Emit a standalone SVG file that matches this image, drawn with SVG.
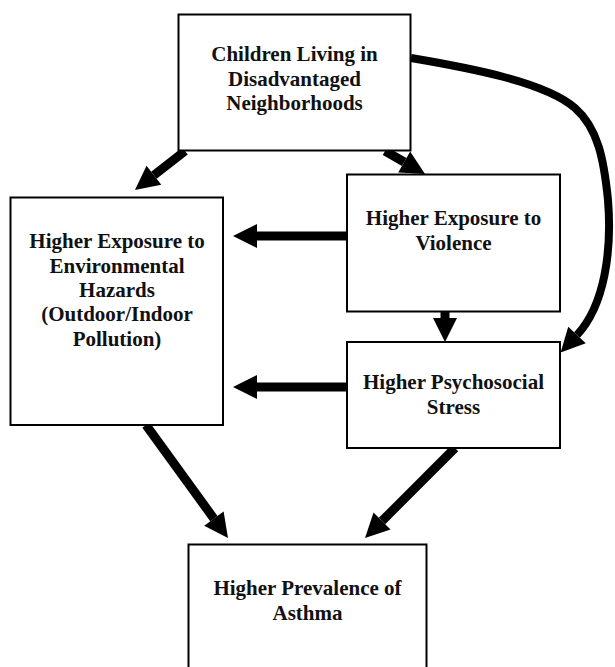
<svg xmlns="http://www.w3.org/2000/svg" width="615" height="667" viewBox="0 0 615 667">
<style>
.box{fill:#fff;stroke:#000;stroke-width:2}
.lbl{font-family:"Liberation Serif","Times New Roman",serif;font-weight:bold;font-size:21px;fill:#111;text-anchor:middle}
.con{fill:none;stroke:#000;stroke-width:9}
.curve{fill:none;stroke:#000;stroke-width:8}
</style>
<defs>
<marker id="ah" markerUnits="userSpaceOnUse" markerWidth="26" markerHeight="26" refX="0" refY="12" orient="auto" overflow="visible">
<path d="M0,0 L24,12 L0,24 Z" fill="#000"/>
</marker>
</defs>
<rect width="615" height="667" fill="#fff"/>
<g id="connectors">
<path class="con" d="M185,151 L153.9,175.2" marker-end="url(#ah)"/>
<path class="con" d="M385,151 L404.2,162" marker-end="url(#ah)"/>
<path class="con" d="M347,236 L257,236" marker-end="url(#ah)"/>
<path class="con" d="M347,387 L257,387" marker-end="url(#ah)"/>
<path class="con" d="M445,312 L445,318" marker-end="url(#ah)"/>
<path class="con" d="M146,425 L213.9,518.6" marker-end="url(#ah)"/>
<path class="con" d="M455,448 L382,521" marker-end="url(#ah)"/>
<path class="curve" d="M411,58 C470,68 545,82 575,108 C598,128 604,160 608,200 C612,250 605,305 577,335" marker-end="url(#ah)"/>
</g>
<g id="n-children">
<rect class="box" x="178.5" y="14.5" width="232" height="136"/>
<text class="lbl" x="294.5" y="61">Children Living in</text>
<text class="lbl" x="294.5" y="86">Disadvantaged</text>
<text class="lbl" x="294.5" y="110">Neighborhoods</text>
</g>
<g id="n-environment">
<rect class="box" x="10.5" y="197.5" width="212.5" height="227.5"/>
<text class="lbl" x="117" y="248">Higher Exposure to</text>
<text class="lbl" x="117" y="272.5">Environmental</text>
<text class="lbl" x="117" y="297">Hazards</text>
<text class="lbl" x="117" y="321">(Outdoor/Indoor</text>
<text class="lbl" x="117" y="345.5">Pollution)</text>
</g>
<g id="n-violence">
<rect class="box" x="347" y="174.5" width="213" height="137"/>
<text class="lbl" x="453.5" y="225">Higher Exposure to</text>
<text class="lbl" x="453.5" y="249.5">Violence</text>
</g>
<g id="n-stress">
<rect class="box" x="347" y="342" width="213" height="106"/>
<text class="lbl" x="453.5" y="388.5">Higher Psychosocial</text>
<text class="lbl" x="453.5" y="413.5">Stress</text>
</g>
<g id="n-asthma">
<rect class="box" x="188.5" y="544.5" width="238" height="140"/>
<text class="lbl" x="307.5" y="595">Higher Prevalence of</text>
<text class="lbl" x="307.5" y="619.5">Asthma</text>
</g>
</svg>
